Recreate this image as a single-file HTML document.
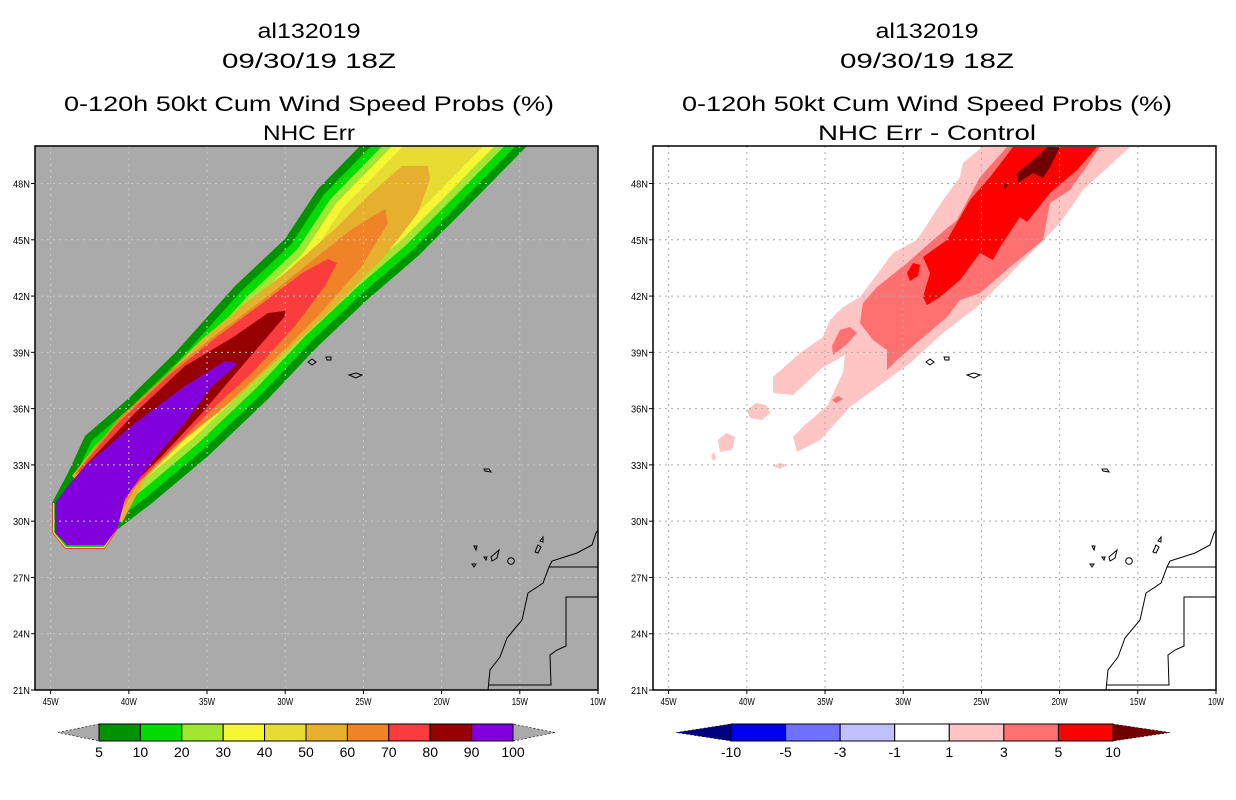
<!DOCTYPE html>
<html><head><meta charset="utf-8"><style>
html,body{margin:0;padding:0;background:#fff;}
svg{display:block;font-family:"Liberation Sans",sans-serif;}
</style></head><body>
<svg id="s" width="1236" height="800" viewBox="0 0 1236 800" xmlns="http://www.w3.org/2000/svg">
<defs>
<clipPath id="clipL"><rect x="35" y="146" width="563" height="544"/></clipPath>
<clipPath id="clipR"><rect x="653" y="146" width="563" height="544"/></clipPath>
<clipPath id="plumeClip"><polygon id="plumeClipPoly" points=""/></clipPath>
</defs>
</svg>
<script>
const NS='http://www.w3.org/2000/svg';
const svg=document.getElementById('s');
function mk(tag,attrs,parent){const e=document.createElementNS(NS,tag);for(const k in attrs)e.setAttribute(k,attrs[k]);(parent||svg).appendChild(e);return e;}

// axes data
const lonTicks=[-45,-40,-35,-30,-25,-20,-15,-10];
const lonLabels=['45W','40W','35W','30W','25W','20W','15W','10W'];
const latTicks=[21,24,27,30,33,36,39,42,45,48];
const latLabels=['21N','24N','27N','30N','33N','36N','39N','42N','45N','48N'];
const lonMin=-46,lonMax=-10,latMin=21,latMax=50;
// colorbar data
const probLevels=[5,10,20,30,40,50,60,70,80,90,100];
const probColors=['#009200','#00dc00','#a0e632','#f6f632','#e6dc32','#e6af2d','#f08228','#fa3c3c','#960000','#8200dc'];
const diffLevels=[-10,-5,-3,-1,1,3,5,10];
const diffColors=['#0000f0','#7070ff','#c0c0ff','#ffffff','#ffc4c4','#ff7070','#ff0000'];

const PW=563,PH=544,PY=146;
function px(x0,lon){return x0+(lon-lonMin)/(lonMax-lonMin)*PW;}
function py(lat){return PY+PH-(lat-latMin)/(latMax-latMin)*PH;}

// titles
function title(cx,lines){
  lines.forEach(l=>{const t=mk('text',{x:cx,y:l[1],'text-anchor':'middle','font-size':'21',textLength:l[2],lengthAdjust:'spacingAndGlyphs',fill:'#000'});t.textContent=l[0];
  
  });
}
title(309,[['al132019',38,103,'storm-id-title'],['09/30/19 18Z',68,174,'date-title'],['0-120h 50kt Cum Wind Speed Probs (%)',111,490,'main-title'],['NHC Err',140,92,'subtitle']]);
title(927,[['al132019',38,103,'storm-id-title'],['09/30/19 18Z',68,174,'date-title'],['0-120h 50kt Cum Wind Speed Probs (%)',111,490,'main-title'],['NHC Err - Control',140,218,'subtitle']]);

// ---------- LEFT PANEL ----------
const gL=mk('g',{'clip-path':'url(#clipL)'});


mk('rect',{x:35,y:146,width:563,height:544,fill:'#aaaaaa'},gL);
const outerPlume='405,100 360,146 318,189 285,239 235,286 175,353 128,399 85,436 68,473 52,503 52,533 65,549 105,549 118,529 152,503 208,456 268,399 318,346 368,299 418,256 468,206 527,146 573,100';
document.getElementById('plumeClipPoly').setAttribute('points',outerPlume);
const pg=mk('g',{'clip-path':'url(#plumeClip)'},gL);


mk('polygon',{points:outerPlume,fill:probColors[4]},pg);
[[probColors[3],62],[probColors[2],46],[probColors[1],32],[probColors[0],16]].forEach(b=>{
  mk('polygon',{points:outerPlume,fill:'none',stroke:b[0],'stroke-width':b[1],'stroke-linejoin':'round'},pg);
});
const inner=[
 [probColors[5],'428,166 402,166 368,196 335,229 285,273 242,306 202,339 162,379 128,413 95,446 72,476 122,523 145,479 185,439 235,399 285,353 335,306 385,256 418,213 430,179'],
 [probColors[6],'385,209 352,229 318,256 268,296 218,333 168,373 118,419 75,473 115,523 138,483 175,446 222,409 268,366 318,316 362,266 388,223'],
 [probColors[7],'328,259 302,273 268,299 218,336 168,376 118,423 78,471 112,523 132,489 168,453 208,413 252,373 295,326 325,286 337,263'],
 [probColors[8],'285,311 268,313 235,336 185,366 135,413 85,466 108,523 128,489 162,456 202,413 242,366 268,336 285,316'],
];
inner.forEach(p=>mk('polygon',{points:p[1],fill:p[0]},pg));
const tip='52,503 52,533 65,549 105,549 118,529';
mk('polyline',{points:tip,fill:'none',stroke:probColors[1],'stroke-width':7},pg);
mk('polyline',{points:tip,fill:'none',stroke:probColors[3],'stroke-width':4},pg);
mk('polyline',{points:tip,fill:'none',stroke:probColors[7],'stroke-width':2},pg);
const purple=mk('polygon',{points:'235,363 225,361 185,386 135,423 85,466 68,486 55,503 55,533 67,545 105,545 117,529 125,499 148,466 182,426 212,386 235,366',fill:probColors[9]},pg);



function grid(g,x0,col){
  lonTicks.slice(0,7).forEach(lo=>{const l=mk('line',{x1:px(x0,lo),x2:px(x0,lo),y1:146,y2:690,stroke:col,'stroke-width':1,'stroke-dasharray':'2,4'},g);
  
  });
  latTicks.slice(1).forEach(la=>{const l=mk('line',{x1:x0,x2:x0+PW,y1:py(la),y2:py(la),stroke:col,'stroke-width':1,'stroke-dasharray':'2,4'},g);
  
  });
}
grid(gL,35,'#c8c8c8');

function land(g,dx){
  const lg=mk('g',{transform:'translate('+dx+',0)',fill:'none',stroke:'#000','stroke-width':1},g);
  
  
  mk('polyline',{points:'598,530 596,533 592,545 577,553 552,561 549,567 543,583 528,593 522,620 507,638 500,657 490,670 488,690'},lg);
  mk('polyline',{points:'549,567 598,567'},lg);
  mk('polyline',{points:'598,597 566,597 566,646 557,650 550,655 551,685 489,685'},lg);
  [['308,362 312,359 316,362 312,365 308,362'],['326,357 331,357 331,360 327,360 326,357'],['349,375 356,373 362,375 356,378 349,375'],
   ['484,469 489,469 491,472 485,471 484,469'],['474,546 477,546 476,550 474,546'],['472,564 476,564 474,567 472,564'],
   ['484,557 487,557 486,560 484,557'],['491,557 499,550 497,558 492,561 491,557'],['535,552 538,545 541,547 538,553 535,552'],['540,541 543,537 543,542 540,541']
  ].forEach(p=>mk('polygon',{points:p[0]},lg));
  mk('circle',{cx:511,cy:561,r:3.3},lg);
}
land(gL,0);

// ---------- RIGHT PANEL ----------
const gR=mk('g',{'clip-path':'url(#clipR)'});


mk('rect',{x:653,y:146,width:563,height:544,fill:'#ffffff'},gR);
const diffShapes=[
 [diffColors[4],'982,147 963,163 960,177 943,200 917,240 893,253 860,297 843,307 830,320 823,337 800,353 773,377 773,393 793,395 822,368 845,355 843,372 828,405 805,425 793,437 797,452 820,440 850,407 887,380 910,363 943,333 977,307 1027,257 1060,223 1083,190 1130,147'],
 [diffColors[4],'747,410 756,403 766,405 770,413 762,420 750,418'],
 [diffColors[4],'718,440 726,433 735,437 732,450 720,452'],
 [diffColors[4],'711,456 714,452 716,458 713,461'],
 [diffColors[4],'773,466 780,463 787,465 780,469'],
 [diffColors[5],'1007,147 980,177 957,220 933,240 907,263 877,287 863,303 860,323 873,340 887,350 887,370 897,360 920,340 947,317 960,300 980,293 1010,267 1043,240 1050,203 1070,190 1100,147'],
 [diffColors[5],'832,346 840,330 850,327 857,333 846,345 833,355'],
 [diffColors[5],'832,400 838,396 843,399 836,403'],
 [diffColors[6],'1013,147 990,177 970,200 947,240 923,257 930,273 923,297 927,305 940,297 960,280 980,253 993,260 1000,247 1020,217 1027,222 1050,193 1077,170 1097,147'],
 [diffColors[6],'907,273 913,263 920,265 918,276 910,281'],
 ['#700000','1047,147 1037,157 1017,173 1018,183 1033,173 1043,178 1050,167 1060,147'],
 ['#700000','1004,184 1008,184 1005,191'],
];
diffShapes.forEach(s=>{const p=mk('polygon',{points:s[1],fill:s[0]},gR);
 
 });
grid(gR,653,'#aaaaaa');
land(gR,618);

function axes(x0,side){
  const f=mk('rect',{x:x0,y:146,width:PW,height:PH,fill:'none',stroke:'#000','stroke-width':1.5});
  
  
  lonTicks.forEach((lo,i)=>{
    const x=px(x0,lo);
    mk('line',{x1:x,x2:x,y1:690,y2:694,stroke:'#000'});
    const t=mk('text',{x:x,y:705,'text-anchor':'middle','font-size':'10',fill:'#000',textLength:16,lengthAdjust:'spacingAndGlyphs'});
    t.textContent=lonLabels[i];
    
    
  });
  latTicks.forEach((la,i)=>{
    const y=py(la);
    mk('line',{x1:x0-4,x2:x0,y1:y,y2:y,stroke:'#000'});
    const t=mk('text',{x:x0-5,y:y+4,'text-anchor':'end','font-size':'10',fill:'#000',textLength:17,lengthAdjust:'spacingAndGlyphs'});
    t.textContent=latLabels[i];
    
    
  });
}
axes(35,'left');axes(653,'right');

function colorbar(x0,x1,tipL,tipR,colors,levels,triL,triR,name){
  const g=mk('g',{});
  
  
  const y0=724,y1=741,ym=732.5,w=(x1-x0)/colors.length;
  mk('polygon',{points:tipL+','+ym+' '+x0+','+y0+' '+x0+','+y1,fill:triL,stroke:'#000','stroke-width':0.6,'stroke-dasharray':'2,2'},g);
  mk('polygon',{points:tipR+','+ym+' '+x1+','+y0+' '+x1+','+y1,fill:triR,stroke:'#000','stroke-width':0.6,'stroke-dasharray':'2,2'},g);
  colors.forEach((c,i)=>{const r=mk('rect',{x:x0+i*w,y:y0,width:w,height:y1-y0,fill:c,stroke:'#000','stroke-width':1},g);
    
    });
  levels.forEach((v,i)=>{const t=mk('text',{x:x0+i*w,y:757,'text-anchor':'middle','font-size':'14',fill:'#000'},g);t.textContent=v;
    
    });
}
colorbar(99,513,58,555,probColors,probLevels,'#aaaaaa','#aaaaaa','probability-colorbar');
colorbar(731,1113,676,1170,diffColors,diffLevels,'#000080','#700000','difference-colorbar');
</script>
</body></html>
